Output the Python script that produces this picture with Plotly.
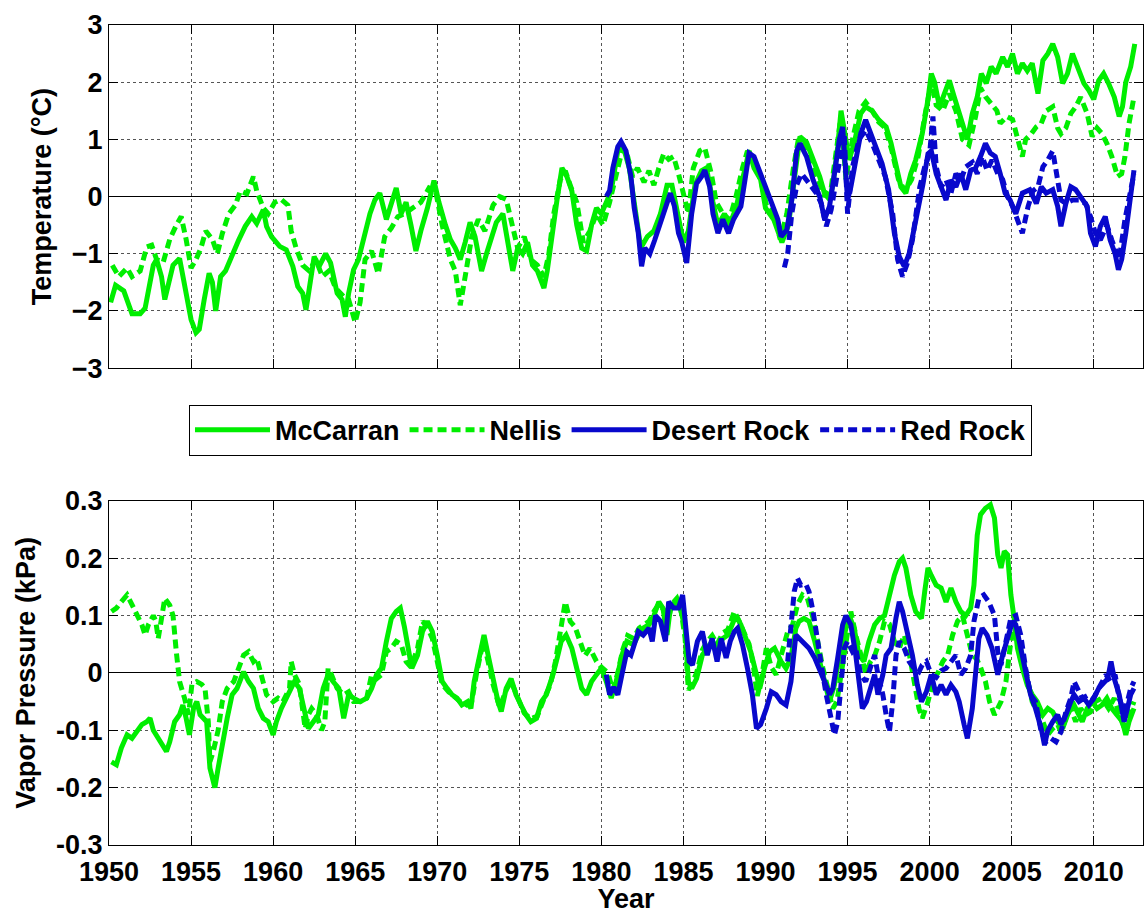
import plotly.graph_objects as go

# ---------------- Temperature anomaly (°C) ----------------
temp_mccarran_year = [1950.1, 1950.4, 1950.9, 1951.4, 1951.9, 1952.2, 1952.4, 1952.7, 1952.9, 1953.2, 1953.4, 1953.6, 1953.9, 1954.3, 1954.6, 1955.0, 1955.3, 1955.5, 1955.8, 1956.1, 1956.3, 1956.5, 1956.6, 1956.8, 1957.1, 1957.5, 1957.9, 1958.3, 1958.7, 1959.0, 1959.4, 1959.6, 1959.9, 1960.4, 1960.8, 1961.2, 1961.5, 1961.8, 1962.0, 1962.1, 1962.3, 1962.5, 1962.8, 1963.2, 1963.5, 1963.7, 1963.9, 1964.2, 1964.4, 1964.6, 1964.9, 1965.2, 1965.5, 1965.9, 1966.2, 1966.5, 1966.9, 1967.2, 1967.5, 1967.8, 1968.1, 1968.4, 1968.7, 1969.0, 1969.4, 1969.8, 1970.1, 1970.5, 1970.8, 1971.1, 1971.4, 1971.7, 1972.0, 1972.3, 1972.7, 1973.0, 1973.3, 1973.6, 1974.0, 1974.3, 1974.6, 1974.9, 1975.2, 1975.5, 1975.8, 1976.1, 1976.5, 1976.7, 1977.0, 1977.3, 1977.6, 1977.9, 1978.2, 1978.5, 1978.8, 1979.1, 1979.4, 1979.7, 1980.0, 1980.3, 1980.6, 1981.0, 1981.3, 1981.7, 1982.1, 1982.4, 1982.8, 1983.2, 1983.6, 1984.0, 1984.3, 1984.7, 1985.0, 1985.3, 1985.7, 1986.1, 1986.4, 1986.8, 1987.1, 1987.5, 1987.8, 1988.2, 1988.6, 1989.0, 1989.3, 1989.7, 1990.0, 1990.5, 1991.0, 1991.4, 1991.8, 1992.1, 1992.5, 1992.9, 1993.3, 1993.6, 1993.9, 1994.1, 1994.4, 1994.6, 1994.9, 1995.1, 1995.4, 1995.8, 1996.1, 1996.5, 1996.9, 1997.35, 1997.65, 1997.95, 1998.25, 1998.55, 1998.85, 1999.15, 1999.55, 1999.9, 2000.1, 2000.3, 2000.6, 2000.9, 2001.2, 2001.5, 2001.8, 2002.1, 2002.3, 2002.6, 2002.9, 2003.15, 2003.45, 2003.75, 2004.05, 2004.45, 2004.75, 2005.05, 2005.35, 2005.65, 2005.95, 2006.25, 2006.6, 2006.9, 2007.2, 2007.5, 2007.8, 2008.1, 2008.4, 2008.7, 2009.0, 2009.4, 2009.7, 2010.0, 2010.3, 2010.6, 2010.9, 2011.25, 2011.55, 2011.75, 2011.95, 2012.25, 2012.5]
temp_mccarran = [-1.85, -1.55, -1.65, -2.05, -2.05, -1.95, -1.65, -1.2, -1.1, -1.4, -1.8, -1.55, -1.2, -1.08, -1.5, -2.15, -2.38, -2.32, -1.8, -1.34, -1.5, -2.0, -1.8, -1.4, -1.3, -1.0, -0.76, -0.52, -0.35, -0.47, -0.23, -0.52, -0.7, -0.87, -0.93, -1.22, -1.57, -1.69, -1.98, -1.8, -1.4, -1.05, -1.22, -1.0, -1.16, -1.4, -1.69, -1.8, -2.1, -1.69, -1.28, -1.1, -0.76, -0.3, -0.06, 0.06, -0.4, -0.15, 0.15, -0.3, -0.1, -0.5, -0.95, -0.6, -0.2, 0.28, -0.1, -0.5, -0.75, -0.9, -1.1, -0.8, -0.45, -0.7, -1.3, -1.0, -0.7, -0.45, -0.3, -0.75, -1.3, -0.9, -1.0, -0.8, -1.2, -1.3, -1.6, -1.3, -0.6, -0.05, 0.5, 0.35, 0.1, -0.5, -0.9, -0.95, -0.5, -0.2, -0.3, -0.1, 0.1, 0.8, 0.9, 0.5, -0.3, -0.9, -0.7, -0.6, -0.3, 0.2, 0.2, -0.4, -0.8, -0.6, 0.2, 0.45, 0.5, -0.1, -0.5, -0.3, -0.5, -0.2, 0.3, 0.8, 0.5, 0.3, -0.2, -0.4, -0.8, -0.5, 0.4, 1.05, 0.95, 0.64, 0.35, 0.05, -0.05, 0.2, 0.87, 1.5, 0.93, 0.65, 0.93, 1.45, 1.57, 1.5, 1.34, 1.22, 0.93, 0.52, 0.17, 0.06, 0.4, 0.64, 1.1, 1.7, 2.15, 2.0, 1.57, 1.8, 2.03, 1.74, 1.45, 1.22, 1.0, 1.45, 1.74, 2.15, 1.98, 2.27, 2.15, 2.44, 2.27, 2.5, 2.15, 2.33, 2.2, 2.33, 1.8, 2.38, 2.5, 2.67, 2.44, 1.98, 2.15, 2.5, 2.27, 1.98, 1.86, 1.7, 2.03, 2.15, 1.98, 1.74, 1.4, 1.57, 2.0, 2.27, 2.67]

temp_nellis_year = [1950.2, 1950.6, 1951.1, 1951.4, 1951.9, 1952.3, 1952.6, 1952.9, 1953.3, 1953.7, 1954.1, 1954.4, 1954.7, 1955.0, 1955.3, 1955.6, 1955.9, 1956.3, 1956.6, 1956.9, 1957.3, 1957.7, 1958.0, 1958.4, 1958.8, 1959.0, 1959.4, 1959.7, 1960.1, 1960.5, 1960.9, 1961.1, 1961.4, 1961.8, 1962.2, 1962.6, 1963.0, 1963.4, 1963.8, 1964.3, 1964.6, 1965.0, 1965.3, 1965.6, 1966.0, 1966.4, 1966.8, 1967.2, 1967.6, 1968.0, 1968.5, 1969.0, 1969.5, 1969.9, 1970.3, 1970.8, 1971.1, 1971.4, 1971.7, 1972.1, 1972.5, 1972.9, 1973.4, 1973.8, 1974.2, 1974.5, 1974.9, 1975.3, 1975.7, 1976.1, 1976.5, 1976.8, 1977.1, 1977.5, 1977.8, 1978.1, 1978.5, 1978.9, 1979.3, 1979.7, 1980.1, 1980.5, 1980.9, 1981.3, 1981.6, 1981.9, 1982.2, 1982.6, 1982.9, 1983.2, 1983.5, 1983.8, 1984.1, 1984.4, 1984.7, 1985.0, 1985.3, 1985.6, 1986.0, 1986.3, 1986.7, 1987.0, 1987.4, 1987.8, 1988.2, 1988.6, 1988.9, 1989.3, 1989.7, 1990.1, 1990.5, 1990.9, 1991.3, 1991.7, 1992.0, 1992.4, 1992.8, 1993.2, 1993.6, 1994.0, 1994.3, 1994.6, 1994.9, 1995.3, 1995.7, 1996.1, 1996.5, 1996.9, 1997.3, 1997.7, 1998.1, 1998.5, 1998.9, 1999.3, 1999.7, 2000.1, 2000.4, 2000.8, 2001.2, 2001.6, 2002.0, 2002.4, 2002.8, 2003.1, 2003.4, 2003.8, 2004.1, 2004.3, 2004.7, 2005.05, 2005.35, 2005.65, 2005.85, 2006.2, 2006.5, 2006.8, 2007.1, 2007.5, 2007.8, 2008.0, 2008.3, 2008.6, 2008.9, 2009.2, 2009.6, 2009.9, 2010.2, 2010.5, 2010.8, 2011.1, 2011.45, 2011.7, 2011.9, 2012.15, 2012.45]
temp_nellis = [-1.2, -1.4, -1.25, -1.4, -1.3, -0.88, -0.85, -1.1, -1.15, -0.75, -0.5, -0.35, -0.75, -1.25, -1.1, -0.9, -0.6, -0.75, -1.0, -0.65, -0.3, -0.15, 0.1, 0.05, 0.35, 0.1, -0.2, -0.3, -0.1, -0.05, -0.15, -0.6, -0.9, -1.2, -1.3, -1.1, -1.4, -1.3, -1.6, -1.75, -1.8, -2.2, -1.85, -1.1, -0.95, -1.35, -0.7, -0.55, -0.35, -0.3, -0.2, -0.1, 0.15, 0.1, -0.5, -1.1, -1.3, -1.9, -1.4, -0.7, -0.4, -0.6, -0.15, 0.0, -0.05, -0.4, -0.9, -0.7, -1.1, -1.2, -1.4, -1.0, -0.3, 0.3, 0.45, 0.2, -0.1, -0.8, -0.6, -0.3, -0.5, -0.1, 0.4, 0.85, 0.7, 0.35, 0.5, 0.25, 0.45, 0.2, 0.5, 0.75, 0.65, 0.7, 0.4, 0.0, -0.3, 0.5, 0.8, 0.85, 0.4, -0.1, -0.3, -0.4, 0.0, 0.5, 0.8, 0.6, 0.3, -0.2, -0.3, -0.75, -0.3, 0.5, 1.0, 0.9, 0.6, 0.3, 0.0, 0.15, 0.8, 1.4, 0.3, 1.0, 1.5, 1.65, 1.5, 1.3, 1.2, 0.8, 0.3, 0.1, 0.3, 0.7, 1.4, 2.0, 1.6, 1.5, 1.8, 1.5, 1.0, 0.9, 1.4, 1.9, 1.75, 1.6, 1.5, 1.28, 1.4, 1.35, 1.0, 0.7, 1.0, 1.1, 1.22, 1.28, 1.5, 1.57, 1.2, 1.1, 1.2, 1.45, 1.57, 1.74, 1.45, 1.05, 1.2, 1.1, 0.93, 0.7, 0.35, 0.4, 0.7, 1.28, 1.74]

temp_desert_year = [1980.3, 1980.5, 1980.7, 1981.0, 1981.2, 1981.5, 1981.8, 1982.0, 1982.25, 1982.45, 1982.65, 1982.95, 1983.25, 1983.55, 1983.9, 1984.2, 1984.45, 1984.7, 1984.9, 1985.2, 1985.5, 1985.8, 1986.1, 1986.3, 1986.6, 1986.8, 1987.1, 1987.4, 1987.75, 1988.05, 1988.5, 1988.8, 1989.0, 1989.3, 1989.6, 1990.0, 1990.4, 1990.75, 1990.95, 1991.3, 1991.6, 1991.9, 1992.1, 1992.5, 1992.9, 1993.3, 1993.6, 1993.9, 1994.2, 1994.5, 1994.7, 1994.85, 1995.0, 1995.2, 1995.5, 1995.8, 1996.1, 1996.4, 1996.7, 1997.1, 1997.5, 1997.85, 1998.15, 1998.45, 1998.75, 1999.2, 1999.6, 1999.9, 2000.1, 2000.4, 2000.7, 2001.0, 2001.3, 2001.6, 2001.9, 2002.2, 2002.5, 2002.8, 2003.1, 2003.4, 2003.7, 2004.0, 2004.3, 2004.6, 2004.9, 2005.25, 2005.65, 2006.1, 2006.5, 2006.8, 2007.1, 2007.5, 2007.8, 2008.0, 2008.3, 2008.6, 2008.9, 2009.3, 2009.6, 2009.8, 2010.1, 2010.4, 2010.7, 2011.0, 2011.3, 2011.5, 2011.7, 2011.95, 2012.25, 2012.45]
temp_desert = [0.0, 0.1, 0.5, 0.87, 0.96, 0.8, 0.35, -0.2, -0.64, -1.22, -0.9, -1.0, -0.76, -0.5, -0.17, 0.06, -0.17, -0.64, -0.8, -1.16, -0.3, 0.23, 0.35, 0.46, 0.17, -0.3, -0.64, -0.4, -0.64, -0.4, -0.17, 0.4, 0.76, 0.7, 0.47, 0.17, -0.1, -0.4, -0.7, -0.58, -0.06, 0.8, 0.93, 0.7, 0.29, 0.0, -0.4, -0.17, 0.4, 1.0, 1.22, 0.64, -0.06, 0.17, 0.64, 1.1, 1.34, 1.1, 0.87, 0.58, 0.12, -0.64, -1.05, -1.22, -1.0, -0.4, 0.23, 0.75, 0.8, 0.4, 0.17, -0.06, 0.29, 0.17, 0.4, 0.12, 0.46, 0.5, 0.7, 0.93, 0.76, 0.7, 0.4, 0.06, -0.06, -0.3, 0.06, 0.12, -0.12, 0.17, 0.06, 0.12, -0.17, -0.52, -0.12, 0.17, 0.12, -0.06, -0.17, -0.64, -0.87, -0.52, -0.35, -0.76, -1.0, -1.28, -1.1, -0.64, 0.06, 0.46]

temp_redrock_year = [1991.15, 1991.35, 1991.6, 1991.9, 1992.2, 1992.5, 1992.8, 1993.1, 1993.4, 1993.7, 1994.0, 1994.3, 1994.6, 1994.8, 1995.0, 1995.3, 1995.7, 1996.1, 1996.5, 1996.9, 1997.3, 1997.75, 1998.05, 1998.35, 1998.65, 1998.95, 1999.4, 1999.7, 2000.0, 2000.2, 2000.4, 2000.7, 2001.0, 2001.3, 2001.6, 2001.9, 2002.2, 2002.6, 2002.9, 2003.2, 2003.5, 2003.8, 2004.15, 2004.45, 2004.75, 2005.05, 2005.35, 2005.65, 2006.0, 2006.3, 2006.6, 2006.9, 2007.2, 2007.5, 2007.7, 2008.0, 2008.3, 2008.7, 2009.1, 2009.5, 2009.8, 2010.1, 2010.4, 2010.8, 2011.1, 2011.55, 2011.9, 2012.2, 2012.45]
temp_redrock = [-1.24, -1.0, -0.3, 0.2, 0.4, 0.29, 0.17, 0.06, -0.12, -0.52, -0.23, 0.29, 0.87, 1.1, -0.3, 0.52, 1.0, 1.16, 0.93, 0.64, 0.35, -0.3, -1.1, -1.4, -1.16, -0.76, 0.17, 0.52, 0.75, 1.4, 0.52, 0.17, 0.29, 0.06, 0.4, 0.29, 0.52, 0.6, 0.4, 0.7, 0.46, 0.64, 0.4, 0.3, 0.0, -0.17, -0.4, -0.64, -0.17, 0.1, 0.17, 0.52, 0.64, 0.8, 0.46, -0.06, -0.12, -0.06, -0.06, -0.12, -0.35, -0.64, -0.76, -0.5, -0.76, -1.1, -0.4, 0.06, 0.4]

# ---------------- Vapor pressure anomaly (kPa) ----------------
vp_mccarran_year = [1950.15, 1950.45, 1950.75, 1951.1, 1951.4, 1951.7, 1952.0, 1952.3, 1952.5, 1952.7, 1953.0, 1953.3, 1953.5, 1953.7, 1954.0, 1954.3, 1954.5, 1954.7, 1954.9, 1955.15, 1955.35, 1955.55, 1955.75, 1955.95, 1956.15, 1956.45, 1956.65, 1956.85, 1957.2, 1957.5, 1957.8, 1958.2, 1958.5, 1958.8, 1959.1, 1959.4, 1959.7, 1960.0, 1960.2, 1960.5, 1960.7, 1961.0, 1961.3, 1961.6, 1961.85, 1962.15, 1962.45, 1962.75, 1963.05, 1963.35, 1963.65, 1964.0, 1964.3, 1964.6, 1964.9, 1965.3, 1965.7, 1966.0, 1966.3, 1966.6, 1966.9, 1967.2, 1967.5, 1967.75, 1968.0, 1968.2, 1968.45, 1968.8, 1969.1, 1969.4, 1969.7, 1970.0, 1970.3, 1970.6, 1970.9, 1971.2, 1971.5, 1971.85, 1972.05, 1972.25, 1972.55, 1972.85, 1973.1, 1973.4, 1973.7, 1973.9, 1974.2, 1974.5, 1974.8, 1975.1, 1975.4, 1975.7, 1976.05, 1976.35, 1976.65, 1976.85, 1977.05, 1977.35, 1977.55, 1977.85, 1978.2, 1978.5, 1978.8, 1979.1, 1979.4, 1979.7, 1980.0, 1980.3, 1980.6, 1980.9, 1981.25, 1981.55, 1981.95, 1982.25, 1982.55, 1982.9, 1983.2, 1983.5, 1983.75, 1984.0, 1984.2, 1984.5, 1984.8, 1985.1, 1985.3, 1985.5, 1985.8, 1986.15, 1986.45, 1986.75, 1987.05, 1987.4, 1987.7, 1988.0, 1988.2, 1988.5, 1988.8, 1989.1, 1989.45, 1989.65, 1989.95, 1990.25, 1990.55, 1990.95, 1991.25, 1991.55, 1991.85, 1992.05, 1992.35, 1992.65, 1993.0, 1993.3, 1993.6, 1993.9, 1994.2, 1994.5, 1994.8, 1995.1, 1995.4, 1995.7, 1996.0, 1996.3, 1996.65, 1996.95, 1997.25, 1997.55, 1997.85, 1998.15, 1998.35, 1998.55, 1998.85, 1999.15, 1999.5, 1999.7, 1999.9, 2000.1, 2000.4, 2000.7, 2001.0, 2001.3, 2001.6, 2001.9, 2002.2, 2002.5, 2002.7, 2002.9, 2003.1, 2003.4, 2003.7, 2003.95, 2004.15, 2004.35, 2004.55, 2004.75, 2004.95, 2005.15, 2005.35, 2005.65, 2005.95, 2006.25, 2006.55, 2006.9, 2007.2, 2007.5, 2007.8, 2008.1, 2008.4, 2008.7, 2009.0, 2009.3, 2009.6, 2009.9, 2010.2, 2010.5, 2010.8, 2011.1, 2011.4, 2011.75, 2011.95, 2012.15, 2012.45]
vp_mccarran = [-0.155, -0.16, -0.131, -0.108, -0.114, -0.10, -0.09, -0.085, -0.079, -0.10, -0.114, -0.131, -0.137, -0.12, -0.085, -0.073, -0.056, -0.079, -0.108, -0.062, -0.05, -0.073, -0.079, -0.085, -0.166, -0.2, -0.166, -0.131, -0.079, -0.038, -0.027, 0.002, -0.015, -0.027, -0.062, -0.079, -0.085, -0.108, -0.085, -0.062, -0.05, -0.033, -0.015, -0.027, -0.062, -0.097, -0.085, -0.073, -0.027, -0.003, -0.015, -0.027, -0.079, -0.038, -0.044, -0.05, -0.044, -0.027, -0.003, 0.008, 0.055, 0.095, 0.107, 0.113, 0.08, 0.043, 0.008, 0.031, 0.072, 0.09, 0.072, 0.031, -0.015, -0.027, -0.038, -0.044, -0.056, -0.05, -0.062, -0.015, 0.031, 0.066, 0.031, -0.015, -0.05, -0.067, -0.027, -0.01, -0.038, -0.056, -0.073, -0.085, -0.079, -0.05, -0.038, -0.02, -0.003, 0.031, 0.055, 0.066, 0.043, 0.008, -0.027, -0.038, -0.015, -0.003, 0.008, -0.015, -0.044, -0.015, 0.031, 0.055, 0.049, 0.066, 0.078, 0.084, 0.10, 0.124, 0.113, 0.066, 0.113, 0.124, 0.113, 0.078, -0.015, -0.027, -0.01, 0.031, 0.043, 0.055, 0.043, 0.06, 0.066, 0.084, 0.10, 0.084, 0.06, 0.037, -0.003, -0.027, 0.01, 0.037, 0.043, 0.02, 0.008, 0.026, 0.078, 0.09, 0.095, 0.09, 0.055, 0.02, -0.015, -0.05, -0.021, 0.031, 0.066, 0.10, 0.078, 0.031, 0.02, 0.055, 0.084, 0.095, 0.10, 0.136, 0.17, 0.194, 0.2, 0.183, 0.136, 0.107, 0.095, 0.142, 0.183, 0.17, 0.153, 0.148, 0.124, 0.148, 0.124, 0.107, 0.10, 0.113, 0.153, 0.24, 0.276, 0.287, 0.293, 0.27, 0.206, 0.183, 0.212, 0.206, 0.136, 0.095, 0.043, 0.008, -0.021, -0.038, -0.05, -0.073, -0.062, -0.068, -0.085, -0.097, -0.073, -0.05, -0.068, -0.085, -0.062, -0.05, -0.062, -0.056, -0.044, -0.062, -0.073, -0.085, -0.108, -0.085, -0.062]

vp_nellis_year = [1950.15, 1950.45, 1950.75, 1951.1, 1951.4, 1951.7, 1952.0, 1952.2, 1952.4, 1952.7, 1952.85, 1953.0, 1953.2, 1953.4, 1953.7, 1953.9, 1954.1, 1954.3, 1954.6, 1954.85, 1955.05, 1955.35, 1955.65, 1955.85, 1956.05, 1956.15, 1956.35, 1956.65, 1956.9, 1957.2, 1957.6, 1957.9, 1958.2, 1958.5, 1958.8, 1959.0, 1959.3, 1959.6, 1960.0, 1960.3, 1960.6, 1961.0, 1961.1, 1961.3, 1961.6, 1961.95, 1962.15, 1962.35, 1962.65, 1962.95, 1963.15, 1963.35, 1963.55, 1963.9, 1964.3, 1964.6, 1964.9, 1965.3, 1965.7, 1966.0, 1966.3, 1966.6, 1966.9, 1967.2, 1967.5, 1967.8, 1968.1, 1968.4, 1968.8, 1969.1, 1969.4, 1969.7, 1970.0, 1970.3, 1970.7, 1971.0, 1971.4, 1971.8, 1972.1, 1972.4, 1972.8, 1973.1, 1973.4, 1973.8, 1974.2, 1974.5, 1974.9, 1975.3, 1975.7, 1976.1, 1976.5, 1976.9, 1977.2, 1977.5, 1977.8, 1978.1, 1978.4, 1978.7, 1979.0, 1979.3, 1979.7, 1980.0, 1980.4, 1980.7, 1981.0, 1981.3, 1981.6, 1981.95, 1982.3, 1982.6, 1982.9, 1983.2, 1983.5, 1983.8, 1984.0, 1984.3, 1984.6, 1984.85, 1985.1, 1985.3, 1985.5, 1985.8, 1986.15, 1986.45, 1986.75, 1987.05, 1987.4, 1987.7, 1988.1, 1988.4, 1988.7, 1989.0, 1989.25, 1989.5, 1989.75, 1990.05, 1990.35, 1990.65, 1990.95, 1991.35, 1991.65, 1991.95, 1992.25, 1992.55, 1992.9, 1993.2, 1993.5, 1993.8, 1994.1, 1994.35, 1994.6, 1994.9, 1995.2, 1995.5, 1995.8, 1996.1, 1996.4, 1996.65, 1996.95, 1997.25, 1997.55, 1997.85, 1998.15, 1998.45, 1998.75, 1999.05, 1999.35, 1999.55, 1999.9, 2000.2, 2000.5, 2000.8, 2001.1, 2001.4, 2001.7, 2002.0, 2002.3, 2002.6, 2002.85, 2003.1, 2003.4, 2003.65, 2003.95, 2004.15, 2004.35, 2004.65, 2004.95, 2005.15, 2005.35, 2005.65, 2005.95, 2006.25, 2006.55, 2006.9, 2007.2, 2007.5, 2007.8, 2008.0, 2008.3, 2008.6, 2008.9, 2009.2, 2009.5, 2009.8, 2010.1, 2010.5, 2010.9, 2011.25, 2011.55, 2011.95, 2012.15, 2012.45]
vp_nellis = [0.107, 0.113, 0.124, 0.136, 0.119, 0.10, 0.084, 0.066, 0.084, 0.10, 0.09, 0.06, 0.095, 0.13, 0.118, 0.10, 0.037, -0.015, -0.044, -0.073, -0.02, -0.015, -0.02, -0.027, -0.085, -0.155, -0.137, -0.1, -0.05, -0.027, -0.015, 0.008, 0.031, 0.037, 0.02, 0.026, -0.003, -0.038, -0.05, -0.044, -0.05, -0.027, 0.02, -0.003, -0.02, -0.097, -0.073, -0.062, -0.073, -0.1, -0.085, 0.008, -0.003, -0.027, -0.038, -0.033, -0.05, -0.05, -0.044, -0.003, -0.01, -0.003, 0.037, 0.043, 0.055, 0.05, 0.02, 0.01, 0.043, 0.09, 0.08, 0.06, 0.02, -0.02, -0.033, -0.04, -0.05, -0.056, -0.05, 0.0, 0.055, 0.02, -0.02, -0.06, -0.03, -0.015, -0.045, -0.07, -0.08, -0.075, -0.045, -0.02, 0.02, 0.07, 0.124, 0.09, 0.08, 0.055, 0.03, 0.043, 0.02, 0.01, 0.0, -0.03, 0.0, 0.04, 0.065, 0.06, 0.078, 0.084, 0.09, 0.107, 0.12, 0.11, 0.084, 0.12, 0.13, 0.11, 0.06, -0.03, -0.02, 0.0, 0.04, 0.055, 0.065, 0.05, 0.07, 0.075, 0.107, 0.09, 0.07, 0.05, 0.015, -0.04, -0.01, 0.043, 0.01, -0.003, 0.03, 0.072, 0.084, 0.119, 0.136, 0.13, 0.095, 0.049, 0.008, -0.027, -0.062, -0.05, 0.0, 0.055, 0.107, 0.066, 0.031, 0.0, 0.02, 0.03, 0.055, 0.09, 0.085, 0.055, 0.043, 0.066, 0.035, -0.015, -0.062, -0.079, -0.05, -0.015, 0.0, 0.02, 0.031, 0.066, 0.09, 0.10, 0.066, 0.031, 0.025, 0.01, -0.015, -0.05, -0.073, -0.062, -0.05, -0.015, 0.055, 0.078, 0.066, 0.03, -0.015, -0.05, -0.068, -0.085, -0.108, -0.097, -0.09, -0.103, -0.079, -0.062, -0.085, -0.062, -0.073, -0.068, -0.05, -0.044, -0.062, -0.044, -0.073, -0.103, -0.073, -0.05]

vp_desert_year = [1980.3, 1980.5, 1980.75, 1981.0, 1981.25, 1981.55, 1981.8, 1982.05, 1982.25, 1982.55, 1982.9, 1983.1, 1983.3, 1983.6, 1983.9, 1984.1, 1984.4, 1984.7, 1984.95, 1985.15, 1985.35, 1985.55, 1985.85, 1986.15, 1986.45, 1986.75, 1987.05, 1987.3, 1987.6, 1987.85, 1988.1, 1988.3, 1988.6, 1988.9, 1989.2, 1989.45, 1989.7, 1990.05, 1990.35, 1990.65, 1990.95, 1991.25, 1991.55, 1991.85, 1992.05, 1992.35, 1992.65, 1993.0, 1993.3, 1993.6, 1993.9, 1994.1, 1994.4, 1994.7, 1994.9, 1995.2, 1995.5, 1995.7, 1995.9, 1996.15, 1996.45, 1996.65, 1996.85, 1997.15, 1997.35, 1997.65, 1997.95, 1998.15, 1998.35, 1998.65, 1998.95, 1999.25, 1999.5, 1999.8, 2000.1, 2000.4, 2000.7, 2001.0, 2001.3, 2001.6, 2001.8, 2002.1, 2002.3, 2002.6, 2002.8, 2003.0, 2003.2, 2003.5, 2003.8, 2004.15, 2004.45, 2004.75, 2005.05, 2005.25, 2005.55, 2005.85, 2006.15, 2006.45, 2006.8, 2007.0, 2007.2, 2007.5, 2007.8, 2008.0, 2008.3, 2008.6, 2008.8, 2009.1, 2009.4, 2009.7, 2010.0, 2010.3, 2010.65, 2010.85, 2011.05, 2011.25, 2011.55, 2011.85, 2012.05, 2012.25, 2012.45]
vp_desert = [-0.003, -0.038, -0.025, -0.038, -0.003, 0.037, 0.031, 0.055, 0.072, 0.066, 0.078, 0.055, 0.10, 0.09, 0.055, 0.124, 0.113, 0.113, 0.136, 0.078, 0.02, 0.014, 0.055, 0.072, 0.031, 0.06, 0.02, 0.06, 0.026, 0.055, 0.072, 0.078, 0.049, 0.008, -0.038, -0.097, -0.09, -0.062, -0.033, -0.038, -0.05, -0.056, -0.015, 0.066, 0.06, 0.049, 0.043, 0.026, 0.008, -0.015, -0.038, -0.027, 0.026, 0.084, 0.10, 0.084, 0.031, -0.015, -0.062, -0.05, -0.021, -0.003, -0.038, -0.003, 0.031, 0.043, 0.096, 0.124, 0.107, 0.066, 0.031, -0.021, -0.05, -0.033, -0.003, -0.038, -0.021, -0.038, -0.021, -0.033, -0.05, -0.09, -0.114, -0.062, -0.003, 0.06, 0.078, 0.066, 0.043, -0.003, 0.031, 0.06, 0.09, 0.084, 0.043, -0.003, -0.038, -0.062, -0.097, -0.126, -0.1, -0.085, -0.073, -0.09, -0.073, -0.05, -0.038, -0.05, -0.044, -0.056, -0.044, -0.027, -0.015, -0.01, 0.02, -0.01, -0.038, -0.085, -0.062, -0.038, -0.027]

vp_redrock_year = [1991.35, 1991.55, 1991.75, 1991.95, 1992.15, 1992.45, 1992.65, 1992.9, 1993.1, 1993.4, 1993.7, 1994.0, 1994.2, 1994.4, 1994.6, 1994.8, 1995.0, 1995.3, 1995.5, 1995.8, 1996.1, 1996.45, 1996.65, 1996.85, 1997.15, 1997.35, 1997.55, 1997.75, 1997.95, 1998.15, 1998.45, 1998.75, 1999.05, 1999.35, 1999.55, 1999.8, 2000.1, 2000.4, 2000.7, 2001.0, 2001.3, 2001.6, 2001.9, 2002.2, 2002.5, 2002.7, 2003.0, 2003.3, 2003.6, 2003.95, 2004.15, 2004.35, 2004.65, 2004.95, 2005.25, 2005.55, 2005.85, 2006.15, 2006.45, 2006.8, 2007.1, 2007.4, 2007.7, 2008.0, 2008.3, 2008.6, 2008.8, 2009.0, 2009.3, 2009.7, 2010.0, 2010.3, 2010.75, 2011.0, 2011.3, 2011.55, 2011.85, 2012.05, 2012.25, 2012.45]
vp_redrock = [0.02, 0.084, 0.142, 0.165, 0.153, 0.155, 0.142, 0.107, 0.066, 0.014, -0.038, -0.085, -0.108, -0.085, -0.015, 0.043, 0.055, 0.037, 0.043, -0.003, -0.015, 0.014, 0.031, -0.003, -0.038, -0.073, -0.103, -0.05, 0.031, 0.055, 0.043, 0.02, 0.008, 0.002, 0.014, 0.02, -0.003, -0.008, 0.004, 0.008, 0.02, 0.031, -0.003, 0.008, 0.031, 0.09, 0.13, 0.136, 0.124, 0.10, 0.037, 0.014, 0.055, 0.096, 0.10, 0.066, 0.008, -0.038, -0.05, -0.103, -0.12, -0.114, -0.12, -0.103, -0.068, -0.044, -0.015, -0.027, -0.044, -0.038, -0.044, -0.027, -0.003, -0.015, -0.003, -0.044, -0.068, -0.05, -0.027, -0.015]

station_names = ["McCarran", "Nellis", "Desert Rock", "Red Rock"]
year_ticks = list(range(1950, 2015, 5))

GREEN = "#00ee00"
BLUE = "#0808cc"
FONT = "Liberation Sans, Arial, Helvetica, sans-serif"
LW = 5
DASH = "9px,5px"

styles = [
    dict(color=GREEN, width=LW, dash="solid"),
    dict(color=GREEN, width=LW, dash=DASH),
    dict(color=BLUE, width=LW, dash="solid"),
    dict(color=BLUE, width=LW, dash=DASH),
]

temp_series = [
    (temp_mccarran_year, temp_mccarran),
    (temp_nellis_year, temp_nellis),
    (temp_desert_year, temp_desert),
    (temp_redrock_year, temp_redrock),
]
vp_series = [
    (vp_mccarran_year, vp_mccarran),
    (vp_nellis_year, vp_nellis),
    (vp_desert_year, vp_desert),
    (vp_redrock_year, vp_redrock),
]

fig = go.Figure()
for name, style, (xs, ys) in zip(station_names, styles, temp_series):
    fig.add_trace(go.Scatter(x=xs, y=ys, mode="lines", name=name, line=style,
                             xaxis="x", yaxis="y", showlegend=True))
for name, style, (xs, ys) in zip(station_names, styles, vp_series):
    fig.add_trace(go.Scatter(x=xs, y=ys, mode="lines", name=name, line=style,
                             xaxis="x2", yaxis="y2", showlegend=False))

text_font = dict(family=FONT, size=27, color="black", weight="bold")

axis_common = dict(
    showline=True, linecolor="black", linewidth=1, mirror="ticks",
    ticks="inside", ticklen=9, tickwidth=1, tickcolor="black",
    showgrid=True, gridcolor="#555555", griddash="dot", gridwidth=1,
    tickfont=text_font,
)

fig.update_layout(
    width=1144, height=914,
    paper_bgcolor="white", plot_bgcolor="white",
    margin=dict(l=109, r=0, t=25, b=67),
    font=text_font,
    xaxis=dict(axis_common, domain=[0, 1], range=[1950, 2013], tickvals=year_ticks,
               showticklabels=False, zeroline=False, anchor="y"),
    yaxis=dict(axis_common, domain=[0.5815, 1.0], range=[-3, 3], tickvals=[-3, -2, -1, 0, 1, 2, 3],
               zeroline=True, zerolinecolor="black", zerolinewidth=1, anchor="x",
               title=dict(text="Temperature (°C)", standoff=12, font=text_font)),
    xaxis2=dict(axis_common, domain=[0, 1], range=[1950, 2013], tickvals=year_ticks,
                zeroline=False, anchor="y2", ticklabelstandoff=3,
                title=dict(text="Year", standoff=8, font=text_font)),
    yaxis2=dict(axis_common, domain=[0, 0.4197], range=[-0.3, 0.3],
                tickvals=[-0.3, -0.2, -0.1, 0, 0.1, 0.2, 0.3],
                ticktext=["-0.3", "-0.2", "-0.1", "0", "0.1", "0.2", "0.3"],
                zeroline=True, zerolinecolor="black", zerolinewidth=1, anchor="x2",
                title=dict(text="Vapor Pressure (kPa)", standoff=12, font=text_font)),
    legend=dict(
        orientation="h", x=0.485, y=0.506, xanchor="center", yanchor="middle",
        bordercolor="black", borderwidth=1, bgcolor="white",
        font=text_font, itemwidth=75, tracegroupgap=0,
    ),
    showlegend=True,
)

fig.write_html("out.html")
